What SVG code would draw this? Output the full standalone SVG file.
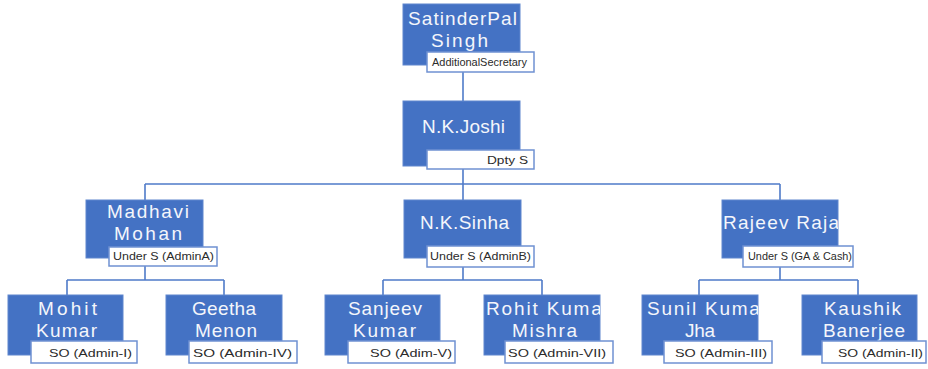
<svg xmlns="http://www.w3.org/2000/svg" width="928" height="369" viewBox="0 0 928 369">
  <style>
    .box { fill: #4472C4; stroke: #5E86CE; stroke-width: 1; }
    .tag { fill: #FFFFFF; stroke: #6F91D2; stroke-width: 1.5; }
    .name { font-family: "Liberation Sans", Arial, sans-serif; font-size: 19px; fill: #F4F6FB; }
    .role { font-family: "Liberation Sans", Arial, sans-serif; font-size: 11px; fill: #2B2B2B; }
    .wire { fill: none; stroke: #4F7BC9; stroke-width: 1.6; }
  </style>
  <defs>
    <clipPath id="clip-rajeev"><rect x="722" y="200" width="116" height="58"/></clipPath>
    <clipPath id="clip-rohit"><rect x="484" y="295" width="116" height="60"/></clipPath>
    <clipPath id="clip-sunil"><rect x="642" y="295" width="116" height="60"/></clipPath>
  </defs>

  <g id="connectors">
    <path class="wire" d="M463 72 V101"/>
    <path class="wire" d="M463 169 V184 M145 184 H780 M145 184 V200 M463 184 V200 M780 184 V200"/>
    <path class="wire" d="M145 266 V280 M67 280 H224 M67 280 V295 M224 280 V295"/>
    <path class="wire" d="M463 267 V280 M383 280 H542 M383 280 V295 M542 280 V295"/>
    <path class="wire" d="M780 267 V280 M699 280 H858 M699 280 V295 M858 280 V295"/>
  </g>

  <g id="node-satinderpal">
    <rect class="box" x="403" y="4" width="117" height="61"/>
    <text class="name" x="408" y="25" textLength="109" lengthAdjust="spacing">SatinderPal</text>
    <text class="name" x="431" y="47" textLength="57" lengthAdjust="spacing">Singh</text>
    <rect class="tag" x="427" y="52" width="107" height="20"/>
    <text class="role" x="432" y="66" font-size="10" textLength="95" lengthAdjust="spacingAndGlyphs">AdditionalSecretary</text>
  </g>

  <g id="node-joshi">
    <rect class="box" x="403" y="101" width="117" height="65"/>
    <text class="name" x="422" y="133" textLength="83" lengthAdjust="spacing">N.K.Joshi</text>
    <rect class="tag" x="427" y="150" width="107" height="19"/>
    <text class="role" x="487" y="164" textLength="41" lengthAdjust="spacingAndGlyphs">Dpty S</text>
  </g>

  <g id="node-madhavi">
    <rect class="box" x="86" y="200" width="117" height="58"/>
    <text class="name" x="107" y="218" textLength="82" lengthAdjust="spacing">Madhavi</text>
    <text class="name" x="114" y="240" textLength="68" lengthAdjust="spacing">Mohan</text>
    <rect class="tag" x="109" y="247" width="108" height="19"/>
    <text class="role" x="113" y="260" textLength="101" lengthAdjust="spacingAndGlyphs">Under S (AdminA)</text>
  </g>

  <g id="node-sinha">
    <rect class="box" x="404" y="200" width="117" height="58"/>
    <text class="name" x="420" y="229" textLength="89" lengthAdjust="spacing">N.K.Sinha</text>
    <rect class="tag" x="427" y="246" width="107" height="21"/>
    <text class="role" x="430" y="260" textLength="101" lengthAdjust="spacingAndGlyphs">Under S (AdminB)</text>
  </g>

  <g id="node-rajeev">
    <rect class="box" x="722" y="200" width="116" height="58"/>
    <text class="name" x="723" y="229" textLength="128" lengthAdjust="spacing" clip-path="url(#clip-rajeev)">Rajeev Rajan</text>
    <rect class="tag" x="743" y="246" width="110" height="21"/>
    <text class="role" x="748" y="260" textLength="104" lengthAdjust="spacingAndGlyphs">Under S (GA &amp; Cash)</text>
  </g>

  <g id="node-mohit">
    <rect class="box" x="8" y="295" width="115" height="60"/>
    <text class="name" x="38" y="315" textLength="59" lengthAdjust="spacing">Mohit</text>
    <text class="name" x="36" y="337" textLength="61" lengthAdjust="spacing">Kumar</text>
    <rect class="tag" x="31" y="341" width="106" height="22"/>
    <text class="role" x="49" y="357" textLength="83" lengthAdjust="spacingAndGlyphs">SO (Admin-I)</text>
  </g>

  <g id="node-geetha">
    <rect class="box" x="166" y="295" width="116" height="60"/>
    <text class="name" x="192" y="315" textLength="64" lengthAdjust="spacing">Geetha</text>
    <text class="name" x="195" y="337" textLength="62" lengthAdjust="spacing">Menon</text>
    <rect class="tag" x="189" y="341" width="108" height="22"/>
    <text class="role" x="193" y="357" textLength="99" lengthAdjust="spacingAndGlyphs">SO (Admin-IV)</text>
  </g>

  <g id="node-sanjeev">
    <rect class="box" x="325" y="295" width="115" height="60"/>
    <text class="name" x="348" y="315" textLength="74" lengthAdjust="spacing">Sanjeev</text>
    <text class="name" x="353" y="337" textLength="63" lengthAdjust="spacing">Kumar</text>
    <rect class="tag" x="348" y="341" width="107" height="22"/>
    <text class="role" x="370" y="357" textLength="82" lengthAdjust="spacingAndGlyphs">SO (Adim-V)</text>
  </g>

  <g id="node-rohit">
    <rect class="box" x="484" y="295" width="116" height="60"/>
    <text class="name" x="486" y="315" textLength="124" lengthAdjust="spacing" clip-path="url(#clip-rohit)">Rohit Kumar</text>
    <text class="name" x="512" y="337" textLength="65" lengthAdjust="spacing">Mishra</text>
    <rect class="tag" x="505" y="341" width="108" height="22"/>
    <text class="role" x="508" y="357" textLength="98" lengthAdjust="spacingAndGlyphs">SO (Admin-VII)</text>
  </g>

  <g id="node-sunil">
    <rect class="box" x="642" y="295" width="116" height="60"/>
    <text class="name" x="647" y="315" textLength="121" lengthAdjust="spacing" clip-path="url(#clip-sunil)">Sunil Kumar</text>
    <text class="name" x="685" y="337" textLength="30" lengthAdjust="spacing">Jha</text>
    <rect class="tag" x="664" y="341" width="108" height="22"/>
    <text class="role" x="675" y="357" textLength="92" lengthAdjust="spacingAndGlyphs">SO (Admin-III)</text>
  </g>

  <g id="node-kaushik">
    <rect class="box" x="802" y="295" width="115" height="60"/>
    <text class="name" x="824" y="315" textLength="77" lengthAdjust="spacing">Kaushik</text>
    <text class="name" x="823" y="337" textLength="82" lengthAdjust="spacing">Banerjee</text>
    <rect class="tag" x="822" y="341" width="104" height="22"/>
    <text class="role" x="838" y="357" textLength="85" lengthAdjust="spacingAndGlyphs">SO (Admin-II)</text>
  </g>
</svg>
